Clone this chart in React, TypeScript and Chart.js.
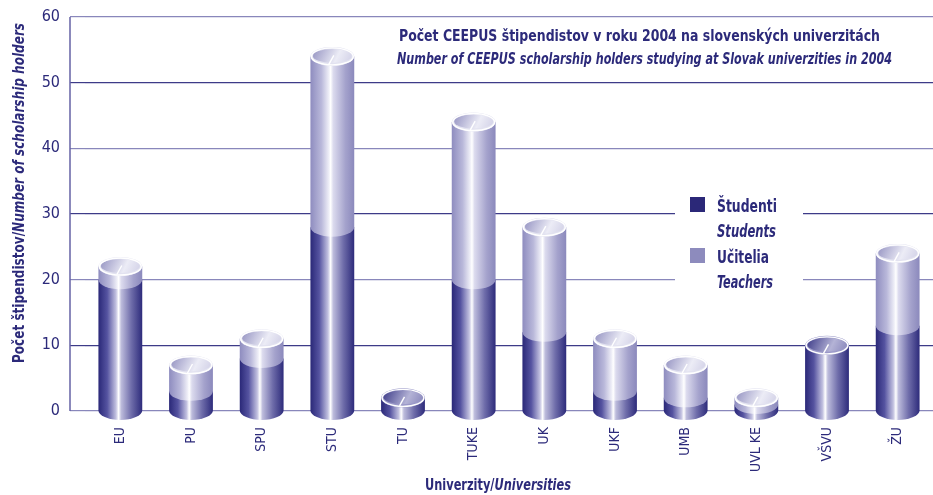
import React, { useEffect, useRef } from 'react';
import { Chart, registerables } from 'chart.js';

Chart.register(...registerables);

// ---------- data ----------
const categories = ['EU', 'PU', 'SPU', 'STU', 'TU', 'TUKE', 'UK', 'UKF', 'UMB', 'UVL KE', 'VŠVU', 'ŽU'];
const students = [20, 3, 8, 28, 2, 20, 12, 3, 2, 1, 10, 13];
const teachers = [2, 4, 3, 26, 0, 24, 16, 8, 5, 1, 0, 11];
const yTicks = [0, 10, 20, 30, 40, 50, 60];
const seriesSk = ['Študenti', 'Učitelia'];
const seriesEn = ['Students', 'Teachers'];
const titleSk = 'Počet CEEPUS štipendistov v roku 2004 na slovenských univerzitách';
const titleEn = 'Number of CEEPUS scholarship holders studying at Slovak univerzities in 2004';
const yTitleSk = 'Počet štipendistov/';
const yTitleEn = 'Number of scholarship holders';
const xTitleSk = 'Univerzity/';
const xTitleEn = 'Universities';

// ---------- style ----------
const FONT = "'Liberation Sans Narrow', 'DejaVu Sans Condensed', 'Roboto Condensed', 'Liberation Sans', sans-serif";
const NAVY = '#2c2a7a';
const LEGEND_COLORS = ['#2b2878', '#8d8bbd'];

type Part = { text: string; font: string };

function drawParts(ctx: CanvasRenderingContext2D, parts: Part[], x: number, y: number, targetW: number, align: 'left' | 'center') {
  const widths = parts.map((p) => {
    ctx.font = p.font;
    return ctx.measureText(p.text).width;
  });
  const total = widths.reduce((a, b) => a + b, 0);
  const sx = targetW > 0 ? targetW / total : 1;
  ctx.save();
  ctx.translate(x, y);
  ctx.scale(sx, 1);
  ctx.textAlign = 'left';
  ctx.textBaseline = 'alphabetic';
  ctx.fillStyle = NAVY;
  let cx = align === 'center' ? -total / 2 : 0;
  parts.forEach((p, i) => {
    ctx.font = p.font;
    ctx.fillText(p.text, cx, 0);
    cx += widths[i];
  });
  ctx.restore();
}

function bodyGradient(ctx: CanvasRenderingContext2D, cx: number, rx: number, dark: boolean) {
  const g = ctx.createLinearGradient(cx - rx, 0, cx + rx, 0);
  if (dark) {
    g.addColorStop(0, '#2a2878');
    g.addColorStop(0.2, '#5553a0');
    g.addColorStop(0.4, '#c2c1e0');
    g.addColorStop(0.46, '#ffffff');
    g.addColorStop(0.52, '#bdbcdc');
    g.addColorStop(0.75, '#6f6daa');
    g.addColorStop(1, '#2d2b7b');
  } else {
    g.addColorStop(0, '#8e8cbf');
    g.addColorStop(0.25, '#b9b8da');
    g.addColorStop(0.42, '#eeeef7');
    g.addColorStop(0.46, '#ffffff');
    g.addColorStop(0.52, '#dcdbee');
    g.addColorStop(0.8, '#a4a2cc');
    g.addColorStop(1, '#8b89bc');
  }
  return g;
}

function drawBody(ctx: CanvasRenderingContext2D, cx: number, rx: number, ry: number, topY: number, baseY: number, dark: boolean) {
  ctx.beginPath();
  ctx.moveTo(cx - rx, topY);
  ctx.lineTo(cx - rx, baseY);
  ctx.ellipse(cx, baseY, rx, ry, 0, Math.PI, 0, true);
  ctx.lineTo(cx + rx, topY);
  ctx.closePath();
  ctx.fillStyle = bodyGradient(ctx, cx, rx, dark);
  ctx.fill();
}

function drawCap(ctx: CanvasRenderingContext2D, cx: number, cy: number, rx: number, ry: number, dark: boolean) {
  ctx.beginPath();
  ctx.ellipse(cx, cy, rx, ry, 0, 0, Math.PI * 2);
  ctx.fillStyle = dark ? '#9a98c8' : '#e2e2f0';
  ctx.fill();
  const g = ctx.createLinearGradient(cx - rx, cy - ry, cx + rx * 0.8, cy + ry);
  if (dark) {
    g.addColorStop(0, '#2f2d7f');
    g.addColorStop(0.65, '#b4b3d6');
    g.addColorStop(1, '#8a88bc');
  } else {
    g.addColorStop(0, '#8b89bc');
    g.addColorStop(0.65, '#ececf6');
    g.addColorStop(1, '#d2d1e7');
  }
  ctx.beginPath();
  ctx.ellipse(cx, cy - 0.5, rx - 2.5, ry - 2.5, 0, 0, Math.PI * 2);
  ctx.fillStyle = g;
  ctx.fill();
  ctx.beginPath();
  ctx.ellipse(cx, cy, rx - 1, ry - 1, 0, 0, Math.PI * 2);
  ctx.strokeStyle = '#ffffff';
  ctx.lineWidth = 1.4;
  ctx.stroke();
  ctx.beginPath();
  ctx.moveTo(cx + 1.5, cy - 1);
  ctx.lineTo(cx - 3.5, cy + ry - 1.5);
  ctx.strokeStyle = '#ffffff';
  ctx.lineWidth = 1.4;
  ctx.stroke();
}

const cylinderPlugin = {
  id: 'cylinders',
  afterDatasetsDraw(chart: any) {
    const ctx: CanvasRenderingContext2D = chart.ctx;
    const m0 = chart.getDatasetMeta(0).data;
    const m1 = chart.getDatasetMeta(1).data;
    ctx.save();
    categories.forEach((_, i) => {
      const b0 = m0[i];
      const b1 = m1[i];
      const cx = b0.x;
      const rx = b0.width / 2;
      const ry = 9.5;
      if (students[i] > 0) drawBody(ctx, cx, rx, ry, b0.y, b0.base, true);
      if (teachers[i] > 0) drawBody(ctx, cx, rx, ry, b1.y, b1.base, false);
      const topDark = teachers[i] <= 0;
      drawCap(ctx, cx, topDark ? b0.y : b1.y, rx, ry, topDark);
    });
    ctx.restore();
  },
  afterDraw(chart: any) {
    const ctx: CanvasRenderingContext2D = chart.ctx;
    const area = chart.chartArea;
    const yScale = chart.scales.y;
    ctx.save();
    // vertical axis line at the start of the tick marks
    const axisX = area.left - 15;
    ctx.strokeStyle = '#6462a4';
    ctx.lineWidth = 1.5;
    ctx.beginPath();
    ctx.moveTo(axisX, yScale.getPixelForValue(yTicks[yTicks.length - 1]));
    ctx.lineTo(axisX, yScale.getPixelForValue(yTicks[0]));
    ctx.stroke();

    // title
    drawParts(ctx, [{ text: titleSk, font: `bold 16px ${FONT}` }], 399, 41, 481, 'left');
    drawParts(ctx, [{ text: titleEn, font: `italic bold 16px ${FONT}` }], 397, 64, 495, 'left');

    // legend
    ctx.fillStyle = '#ffffff';
    ctx.fillRect(675, 190, 128, 106);
    ctx.fillStyle = LEGEND_COLORS[0];
    ctx.fillRect(690, 197, 15, 15);
    ctx.fillStyle = LEGEND_COLORS[1];
    ctx.fillRect(690, 248, 15, 15);
    drawParts(ctx, [{ text: seriesSk[0], font: `bold 17px ${FONT}` }], 717, 211.5, 60, 'left');
    drawParts(ctx, [{ text: seriesEn[0], font: `italic bold 17px ${FONT}` }], 717, 236.5, 59, 'left');
    drawParts(ctx, [{ text: seriesSk[1], font: `bold 17px ${FONT}` }], 717, 263, 52, 'left');
    drawParts(ctx, [{ text: seriesEn[1], font: `italic bold 17px ${FONT}` }], 717, 288, 56, 'left');

    // x axis title
    drawParts(
      ctx,
      [
        { text: xTitleSk, font: `bold 16px ${FONT}` },
        { text: xTitleEn, font: `italic bold 16px ${FONT}` },
      ],
      498,
      490,
      146,
      'center'
    );
    // y axis title
    ctx.save();
    ctx.translate(24, 193);
    ctx.rotate(-Math.PI / 2);
    drawParts(
      ctx,
      [
        { text: yTitleSk, font: `bold 16px ${FONT}` },
        { text: yTitleEn, font: `italic bold 16px ${FONT}` },
      ],
      0,
      0,
      340,
      'center'
    );
    ctx.restore();
    ctx.restore();
  },
};

export default function App() {
  const ref = useRef<HTMLCanvasElement | null>(null);
  useEffect(() => {
    if (!ref.current) return;
    const chart = new Chart(ref.current, {
      type: 'bar',
      data: {
        labels: categories,
        datasets: [
          { label: seriesSk[0], data: students, backgroundColor: 'rgba(0,0,0,0)', borderWidth: 0 },
          { label: seriesSk[1], data: teachers, backgroundColor: 'rgba(0,0,0,0)', borderWidth: 0 },
        ],
      },
      options: {
        animation: false,
        responsive: true,
        maintainAspectRatio: false,
        devicePixelRatio: 1,
        layout: { padding: { top: 17, right: 0, bottom: 0, left: 0 } },
        datasets: { bar: { categoryPercentage: 1, barPercentage: 0.62 } },
        plugins: {
          legend: { display: false },
          title: { display: false },
          tooltip: { enabled: false },
        },
        scales: {
          x: {
            stacked: true,
            offset: true,
            grid: { display: false },
            border: { display: false },
            ticks: {
              autoSkip: false,
              maxRotation: 90,
              minRotation: 90,
              padding: 8,
              color: NAVY,
              font: { family: FONT, size: 14 },
            },
            afterFit: (s: any) => {
              s.height = 84;
            },
          },
          y: {
            stacked: true,
            min: yTicks[0],
            max: yTicks[yTicks.length - 1],
            border: { display: false },
            grid: {
              color: (c: any) => ((c.tick && c.tick.value % 20 === 0) ? '#8987bb' : '#3d3b88'),
              lineWidth: 1.2,
              tickLength: 15,
              drawTicks: true,
            },
            ticks: {
              padding: 10,
              color: NAVY,
              font: { family: FONT, size: 16 },
            },
            afterBuildTicks: (s: any) => {
              s.ticks = yTicks.map((v) => ({ value: v }));
            },
            afterFit: (s: any) => {
              s.width = 85;
              s.paddingTop = 0;
              s.paddingBottom = 0;
            },
          },
        },
      },
      plugins: [cylinderPlugin],
    });
    return () => chart.destroy();
  }, []);
  return (
    <div style={{ position: 'absolute', left: 0, top: 0, width: 933, height: 495, background: '#ffffff' }}>
      <canvas ref={ref} />
    </div>
  );
}
